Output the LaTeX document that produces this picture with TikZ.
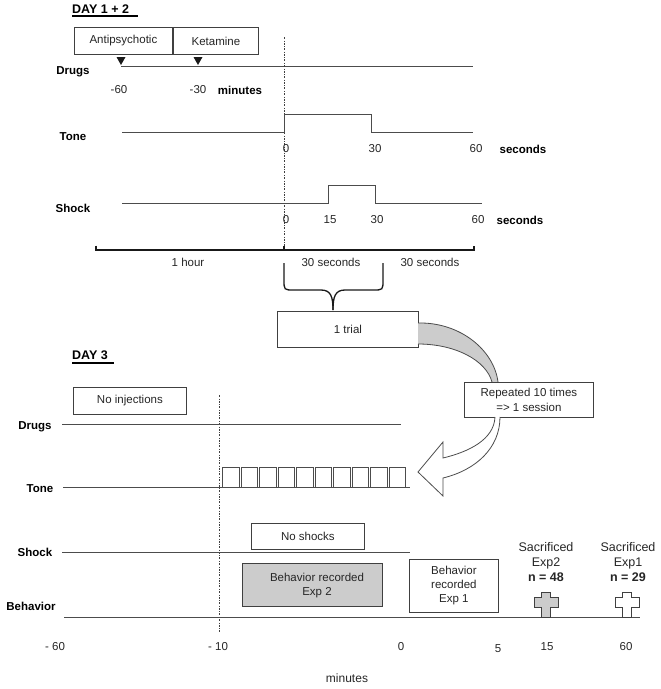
\documentclass[tikz,border=0pt]{standalone}
\usepackage{fontspec}
\setmainfont{Liberation Sans}
\usetikzlibrary{arrows.meta}
\begin{document}
\begin{tikzpicture}[x=1pt,y=-1pt,
  ln/.style={draw=black!70,line width=0.9pt},
  bx/.style={draw=black!75,line width=0.8pt,inner sep=0pt,anchor=north west,fill=white},
  t/.style={font=\fontsize{11.5}{14}\selectfont,text=black!85,inner sep=0pt,align=center},
  bl/.style={font=\fontsize{11.5}{14}\selectfont\bfseries,inner sep=0pt},
  sac/.style={font=\fontsize{12.5}{15}\selectfont,text=black!85,inner sep=0pt,align=center},
  dd/.style={draw=black!75,line width=0.7pt,dash pattern=on 2pt off 1.5pt on 0.6pt off 1.5pt},
  crs/.style={draw=black!75,line width=0.8pt},
  tipmark/.style={fill=black!90},
]
\useasboundingbox (0,0) rectangle (661,689);

% ================= DAY 1 + 2 =================
\node[font=\fontsize{12.5}{15}\selectfont\bfseries,inner sep=0pt,anchor=west] (day12) at (72,9) {DAY 1 + 2};
\draw[line width=1.2pt] (72,16) coordinate (u1a) -- (138,16) coordinate (u1b);

\node[bx,t,minimum width=98pt,minimum height=27pt] (anti) at (74,27) {Antipsychotic};
\node[bx,t,minimum width=85pt,minimum height=27pt] (ket) at (173,27) {Ketamine};

% drug arrows
\coordinate (a1) at (121,57);
\coordinate (a2) at (198,57);
\fill[tipmark] (a1) ++(-4.5,0) -- ++(9,0) -- ++(-4.5,8) -- cycle;
\fill[tipmark] (a2) ++(-4.5,0) -- ++(9,0) -- ++(-4.5,8) -- cycle;

\node[bl] (drugs1) at (73,72) {Drugs};
\draw[ln] (121,66) coordinate (d1s) -- (473,66) coordinate (d1e);
\node[t] (m60) at (119,90) {-60};
\node[t] (m30) at (198,90) {-30};
\node[bl] (minutes1) at (240,90) {minutes};

% dash-dot line
\draw[dd] (284,37) coordinate (v1t) -- (284,250) coordinate (v1b);

% Tone
\node[bl] (tone1) at (73,137) {Tone};
\draw[ln] (122,132) -- (284,132) -- (284,114) -- (371,114) -- (371,132) -- (473,132);
\node[t] (t0) at (286,149) {0};
\node[t] (t30) at (375,149) {30};
\node[t] (t60) at (476,149) {60};
\node[bl] (tsec) at (523,149) {seconds};

% Shock
\node[bl] (shock1) at (73,208) {Shock};
\draw[ln] (122,203) -- (328,203) -- (328,185) -- (375,185) -- (375,203) -- (482,203);
\node[t] (s0) at (286,220) {0};
\node[t] (s15) at (330,220) {15};
\node[t] (s30) at (377,220) {30};
\node[t] (s60) at (478,220) {60};
\node[bl] (ssec) at (520,220) {seconds};

% timeline bracket
\draw[line width=1.8pt,black!90] (96,245.5) -- (96,250) -- (474,250) -- (474,245.5);
\draw[line width=1.2pt,black!90] (284,246) -- (284,250);
\node[t] (hour) at (188,262) {1 hour};
\node[t] (sec30a) at (331,262) {30 seconds};
\node[t] (sec30b) at (430,262) {30 seconds};

% brace
\draw[line width=1.3pt,black!90] (284,263) -- (284,280) .. controls (284,290) .. (294,290) -- (321,290) .. controls (331,290) and (333,297) .. (333,310);
\draw[line width=1.3pt,black!90] (383,263) -- (383,280) .. controls (383,290) .. (373,290) -- (345,290) .. controls (335,290) and (333,297) .. (333,310);

\node[bx,t,minimum width=141pt,minimum height=36pt] (trial) at (277,311) {1 trial};

% gray curved band
\fill[gray!40] (418,323) .. controls (460,322) and (494,350) .. (498,382) -- (492,382) .. controls (486,360) and (455,344) .. (418,344) -- cycle;
\draw[ln,line width=0.8pt] (418,323) .. controls (460,322) and (494,350) .. (498,382);
\draw[ln,line width=0.8pt] (418,344) .. controls (455,344) and (486,360) .. (492,382);

\node[bx,t,minimum width=129pt,minimum height=35pt] (rep) at (464,382) {Repeated 10 times\\[1pt]=> 1 session};

% white curved arrow
\draw[ln,line width=0.8pt,fill=white] (495,417) .. controls (494,440) and (468,452) .. (443,458) -- (443,442) -- (418,472) -- (443,496) -- (443,478) .. controls (476,470) and (500,448) .. (500,417);

% ================= DAY 3 =================
\node[font=\fontsize{12.5}{15}\selectfont\bfseries,inner sep=0pt,anchor=west] (day3) at (72,355) {DAY 3};
\draw[line width=1.2pt] (72,363) coordinate (u3a) -- (114,363) coordinate (u3b);

\node[bx,t,minimum width=113pt,minimum height=27pt] (noinj) at (73,387) {No injections};

\draw[dd] (219,395) coordinate (v3t) -- (219,632) coordinate (v3b);

\node[bl] (drugs3) at (35,427) {Drugs};
\draw[ln] (62,424) -- (401,424);

\node[bl] (tone3) at (40,489) {Tone};
\draw[ln] (63,487) -- (410,487);
\foreach \i in {0,...,9}{
  \draw[ln,line width=0.7pt] ({222.5+\i*18.5},487) rectangle ({239+\i*18.5},467);
}

\node[bx,t,minimum width=113pt,minimum height=26pt] (noshock) at (251,523) {No shocks};
\node[bl] (shock3) at (35,552) {Shock};
\draw[ln] (62,552) -- (410,552);

\node[bx,t,fill=gray!40,minimum width=140pt,minimum height=43pt] (bexp2) at (242,563) {};
\node[t] (bexp2t) at (317,586) {Behavior recorded\\Exp 2};
\node[bx,t,minimum width=89pt,minimum height=53pt] (bexp1) at (409,559) {Behavior\\recorded\\Exp 1};

\node[bl] (behav) at (31,606) {Behavior};
\draw[ln] (64,617) -- (640,617);

\node[sac] (sac2) at (546,562) {Sacrificed\\Exp2\\\textbf{n = 48}};
\node[sac] (sac1) at (628,562) {Sacrificed\\Exp1\\\textbf{n = 29}};

% crosses
\foreach \cx/\fc in {546/gray!40, 627/white}{
  \draw[crs,fill=\fc] (\cx-4.5,592) -- (\cx+4.5,592) -- (\cx+4.5,597) -- (\cx+12,597) -- (\cx+12,607) -- (\cx+4.5,607) -- (\cx+4.5,617) -- (\cx-4.5,617) -- (\cx-4.5,607) -- (\cx-12,607) -- (\cx-12,597) -- (\cx-4.5,597) -- cycle;
}

\node[t] (b60) at (55,647) {- 60};
\node[t] (b10) at (218,647) {- 10};
\node[t] (b0) at (401,647) {0};
\node[t] (b5) at (498,649) {5};
\node[t] (b15) at (547,647) {15};
\node[t] (b60b) at (626,647) {60};
\node[t,font=\fontsize{12}{14}\selectfont] (bmin) at (347,678) {minutes};
\end{tikzpicture}
\end{document}
